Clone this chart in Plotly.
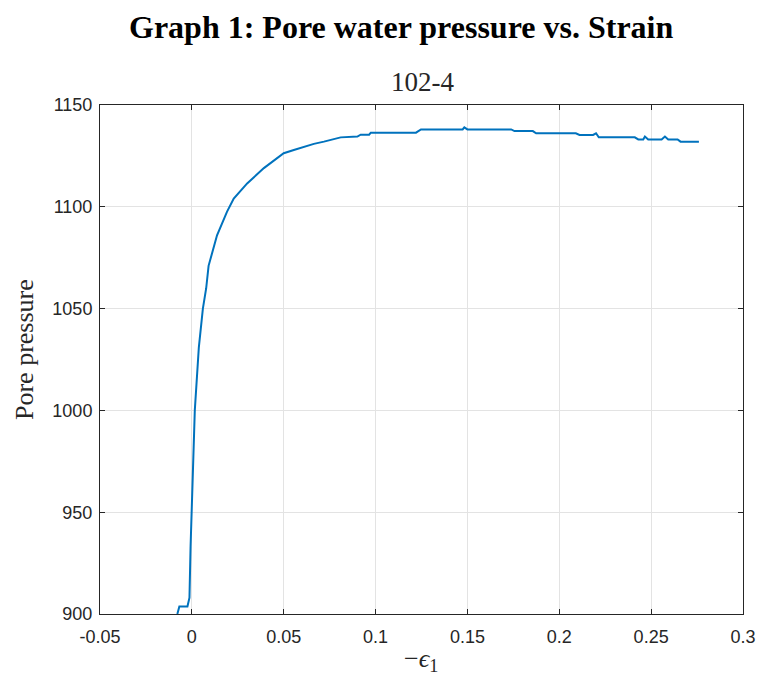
import plotly.graph_objects as go

strain = [-0.0079, -0.0068, -0.0024, -0.0013, -0.0007, -0.0002, 0.0002, 0.0016, 0.0038, 0.0060, 0.0078,
          0.0091, 0.0137, 0.0191, 0.0228, 0.0301, 0.0392, 0.0465, 0.050, 0.0555, 0.061,
          0.0664, 0.0719, 0.0773, 0.081, 0.0901, 0.0919, 0.0965, 0.0974, 0.122, 0.1247,
          0.1474, 0.1483, 0.150, 0.1738, 0.1756, 0.1856, 0.1874, 0.209, 0.211, 0.2184,
          0.220, 0.2215, 0.2411, 0.243, 0.2457, 0.2466, 0.2484, 0.2557, 0.2575, 0.2593,
          0.2644, 0.266, 0.276]
pressure = [900, 903.7, 903.7, 908, 933, 949, 965, 1000, 1031, 1050, 1060,
            1071, 1086, 1097.5, 1104, 1111.5, 1119, 1123.8, 1126.3, 1127.9, 1129.5,
            1130.9, 1132, 1133.1, 1134.1, 1134.5, 1135.4, 1135.4, 1136.4, 1136.4, 1138,
            1138, 1139, 1138, 1138, 1137.2, 1137.2, 1136.1, 1136.1, 1135.3, 1135.3,
            1136.1, 1134.1, 1134.1, 1133.1, 1133.1, 1134.5, 1133.1, 1133.1, 1134.5, 1133.1,
            1133.1, 1132, 1132]

x_ticks = [-0.05, 0, 0.05, 0.1, 0.15, 0.2, 0.25, 0.3]
x_tick_labels = ["-0.05", "0", "0.05", "0.1", "0.15", "0.2", "0.25", "0.3"]
y_ticks = [900, 950, 1000, 1050, 1100, 1150]

fig = go.Figure()
fig.add_trace(go.Scatter(x=strain, y=pressure, mode="lines",
                         line=dict(color="#0072BD", width=2), showlegend=False))

L, R, T, B = 100, 16, 105, 65
W, H = 759, 679
pw = W - L - R
ph = H - T - B

def px(xp):
    return (xp - L) / pw

def py(yp):
    return (H - B - yp) / ph

axis_common = dict(showline=True, linecolor="#262626", linewidth=1, mirror="ticks",
                   ticks="inside", ticklen=5, tickcolor="#262626", automargin=False,
                   showgrid=True, gridcolor="#e3e3e3", gridwidth=1, zeroline=False,
                   tickfont=dict(family="Liberation Sans, Arial, sans-serif", size=18, color="#262626"))

fig.update_xaxes(range=[-0.05, 0.3], tickvals=x_ticks, ticktext=x_tick_labels,
                 ticklabelstandoff=6, **axis_common)
fig.update_yaxes(range=[900, 1150], tickvals=y_ticks, ticklabelstandoff=3, **axis_common)

serif = "Liberation Serif, Times New Roman, serif"
fig.update_layout(
    width=W, height=H,
    margin=dict(l=L, r=R, t=T, b=B, autoexpand=False),
    paper_bgcolor="white", plot_bgcolor="white",
    annotations=[
        dict(text="<b>Graph 1: Pore water pressure vs. Strain</b>", x=px(401), y=py(27),
             xref="paper", yref="paper", showarrow=False, xanchor="center", yanchor="middle",
             font=dict(family=serif, size=32, color="black")),
        dict(text="102-4", x=px(422), y=py(82), xref="paper", yref="paper", showarrow=False,
             xanchor="center", yanchor="middle",
             font=dict(family=serif, size=27, color="#262626")),
        dict(text="Pore pressure", x=px(24), y=py(350), xref="paper", yref="paper", showarrow=False,
             xanchor="center", yanchor="middle", textangle=-90,
             font=dict(family=serif, size=26, color="#262626")),
        dict(text="\u2212<i>\u03f5</i><sub>1</sub>", x=px(421), y=py(660), xref="paper", yref="paper",
             showarrow=False, xanchor="center", yanchor="middle",
             font=dict(family=serif, size=26, color="#262626")),
    ],
)

fig.write_html("out.html")
